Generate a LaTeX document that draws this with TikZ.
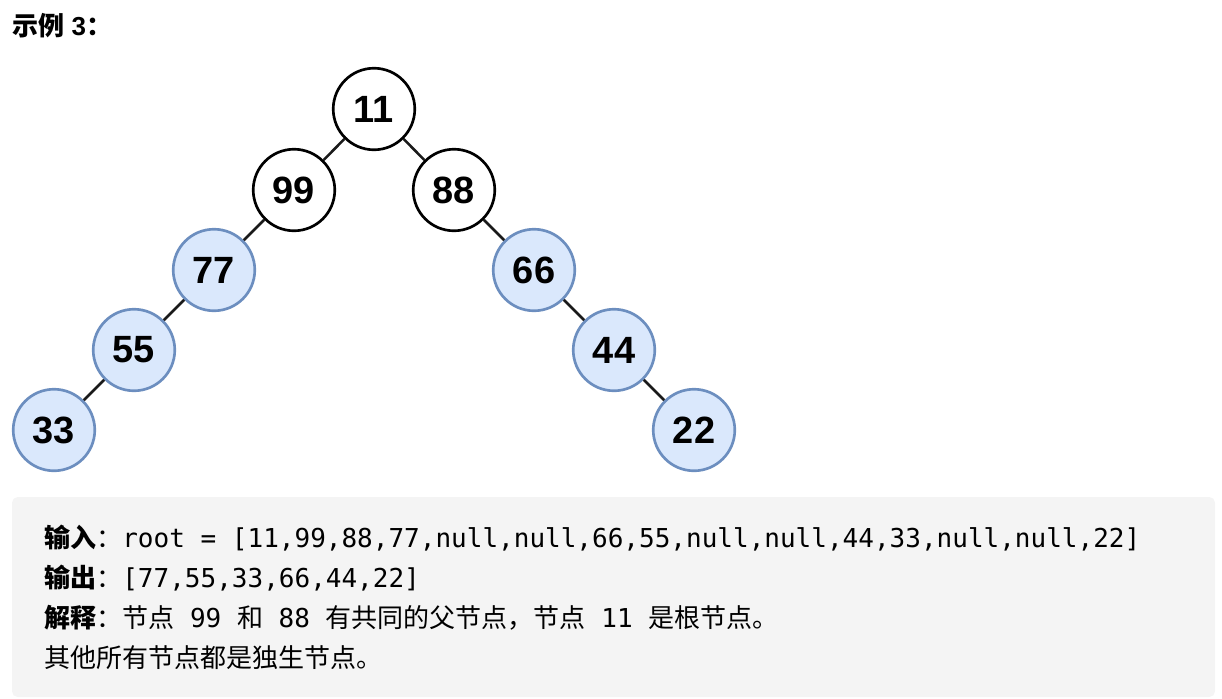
\documentclass[tikz,border=0pt]{standalone}
\usepackage{fontspec}
\setmainfont{Liberation Sans}
\setmonofont{DejaVu Sans Mono}
\newfontfamily\cjk{Noto Sans CJK SC}
\usepackage{tikz}
\usetikzlibrary{shapes}
\usetikzlibrary{positioning}
\definecolor{nodeblue}{HTML}{DAE8FC}
\definecolor{borderblue}{HTML}{6C8EBF}
\definecolor{boxgray}{HTML}{F4F4F4}
\definecolor{edgeblack}{HTML}{1A1A1A}
\tikzstyle{arbre}=[
        circle,
        draw=black,
        line width=1.9pt,
        minimum size=58pt,
        inner sep=0pt,
        fill=white,
        font=\fontsize{27}{29}\selectfont\bfseries
]
\tikzstyle{seul}=[arbre,draw=borderblue,fill=nodeblue]
\tikzstyle{lien}=[line width=1.8pt,draw=edgeblack]
\tikzstyle{ligne}=[anchor=base west,inner sep=0pt,
        font=\fontsize{18.5}{20}\selectfont]

\begin{document}
\begin{tikzpicture}[x=0.025cm,y=-0.025cm]
\useasboundingbox (0,0) rectangle (1222,698);
\node[anchor=base west,inner sep=0pt,font=\fontsize{18.5}{20}\selectfont\bfseries] (titre) at (12,35) {{\cjk 示例} 3{\cjk ：}};
\node[arbre] (a) at (374,109) {11};
\node[arbre] (b) at (294,190) {99};
\node[arbre] (c) at (454,190) {88};
\node[seul] (d) at (214,270) {77};
\node[seul] (e) at (534,270) {66};
\node[seul] (f) at (134,350) {55};
\node[seul] (g) at (614,350) {44};
\node[seul] (h) at (54,430) {33};
\node[seul] (i) at (694,430) {22};
%Placement des liens
\draw[lien] (a) -- (b);
\draw[lien] (a) -- (c);
\draw[lien] (b) -- (d);
\draw[lien] (c) -- (e);
\draw[lien] (d) -- (f);
\draw[lien] (e) -- (g);
\draw[lien] (f) -- (h);
\draw[lien] (g) -- (i);
%Cadre du texte
\fill[boxgray,rounded corners=4pt] (12,497) rectangle (1215,697);
\node[ligne] (entree) at (44,547) {{\cjk\bfseries 输入}{\cjk ：}\ttfamily root = [11,99,88,77,null,null,66,55,null,null,44,33,null,null,22]};
\node[ligne] (sortie) at (44,587) {{\cjk\bfseries 输出}{\cjk ：}\ttfamily [77,55,33,66,44,22]};
\node[ligne] (explic) at (44,627) {{\cjk\bfseries 解释}{\cjk ：节点}{\ttfamily\ 99\ }{\cjk 和}{\ttfamily\ 88\ }{\cjk 有共同的父节点，节点}{\ttfamily\ 11\ }{\cjk 是根节点。}};
\node[ligne] (suite) at (44,667) {\cjk 其他所有节点都是独生节点。};
\end{tikzpicture}
\end{document}
